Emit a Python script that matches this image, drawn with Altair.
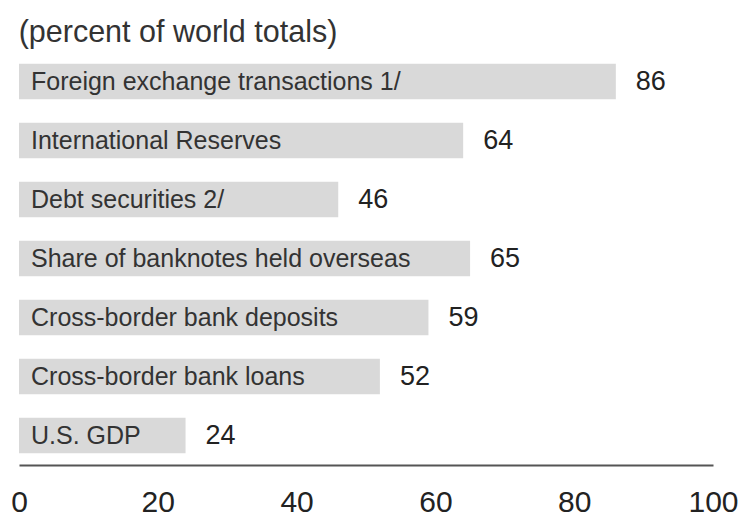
import altair as alt
import pandas as pd

categories = [
    "Foreign exchange transactions 1/",
    "International Reserves",
    "Debt securities 2/",
    "Share of banknotes held overseas",
    "Cross-border bank deposits",
    "Cross-border bank loans",
    "U.S. GDP",
]
values = [86, 64, 46, 65, 59, 52, 24]
x_ticks = [0, 20, 40, 60, 80, 100]

df = pd.DataFrame({"category": categories, "value": values})

FONT = "Liberation Sans"

x = alt.X(
    "value:Q",
    scale=alt.Scale(domain=[0, 100], nice=False),
    axis=alt.Axis(
        values=x_ticks, title=None, grid=False, ticks=False,
        domainColor="#555555", domainWidth=2,
        labelFontSize=30, labelColor="#222222", labelFont=FONT,
        labelPadding=22, labelFlush=False,
    ),
)
y = alt.Y(
    "category:N", sort=categories,
    scale=alt.Scale(paddingInner=0.4, paddingOuter=0.2),
    axis=None,
)

base = alt.Chart(df)

bars = base.mark_bar(color="#d9d9d9").encode(x=x, y=y)

inner = base.mark_text(
    align="left", baseline="middle", dx=12, fontSize=25, font=FONT, color="#333333",
).encode(x=alt.datum(0), y=y, text="category:N")

vals = base.mark_text(
    align="left", baseline="middle", dx=20, fontSize=27, font=FONT, color="#222222"
).encode(x=x, y=y, text="value:Q")

chart = (
    alt.layer(bars, inner, vals)
    .properties(
        width=694,
        height=413,
        title=alt.TitleParams(
            "(percent of world totals)", anchor="start", fontSize=30.5,
            font=FONT, fontWeight="normal", color="#333333", offset=4, dx=8,
        ),
        autosize=alt.AutoSizeParams(type="none"),
        padding={"left": 19, "top": 52, "right": 31, "bottom": 55},
    )
    .configure_view(stroke=None)
)

chart.save("out.html", embed_options={"renderer": "svg", "actions": False})
